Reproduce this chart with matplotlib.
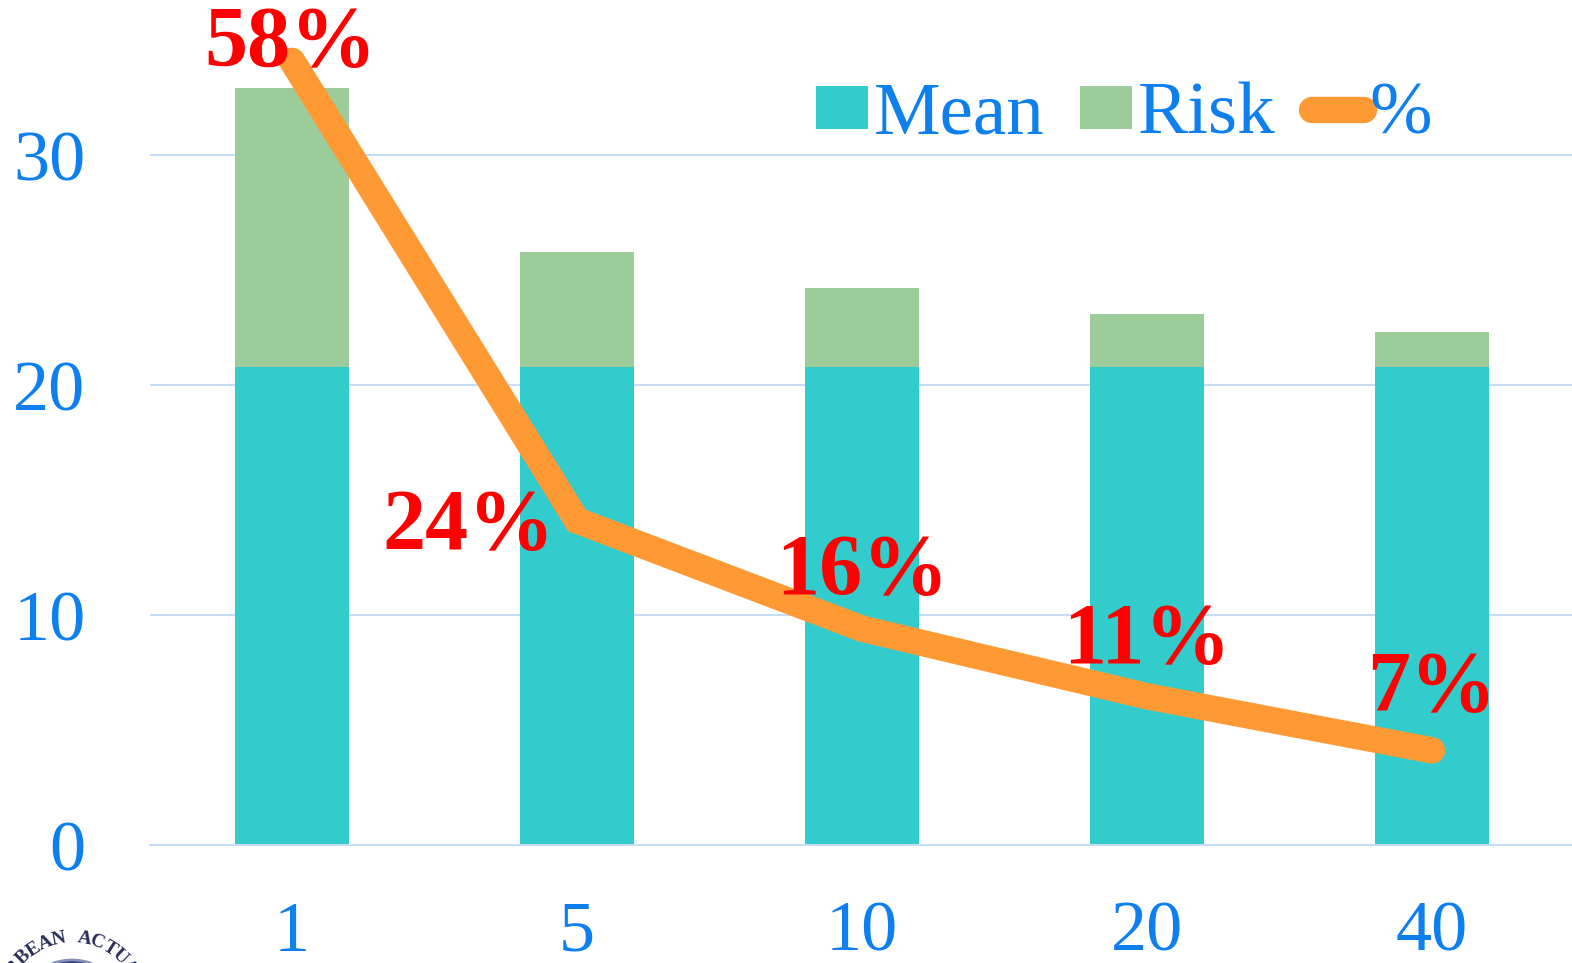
import numpy as np
import matplotlib.pyplot as plt
from matplotlib.patches import Circle

plt.rcParams['font.family'] = ['Liberation Serif', 'DejaVu Serif']

# horizons (years)
horizons = ['1', '5', '10', '20', '40']
mean_part = [20.8, 20.8, 20.8, 20.8, 20.8]
risk_part = [12.1, 5.0, 3.4, 2.3, 1.5]
pct = [58, 24, 16, 11, 7]
pct_labels = ['58%', '24%', '16%', '11%', '7%']

# label offsets in points (style only)
label_off = [(-1, 11), (-78, -6), (0, 40), (0, 39), (0, 43)]

BLUE = '#0D7FEE'
GRID = '#C6DDF7'
W, H = 1572, 963

fig = plt.figure(figsize=(W / 100, H / 100), dpi=100)
ax = fig.add_axes([149.5 / W, 118 / H, 1425 / W, 845 / H])

x = np.arange(len(horizons))
ax.bar(x, mean_part, width=0.4, color='#33CCCC', label='Mean', zorder=2)
ax.bar(x, risk_part, width=0.4, bottom=mean_part, color='#9CCC99',
       label='Risk', zorder=2)

ax.set_xlim(-0.5, 4.5)
ax.set_ylim(0, 36.74)
ax.set_yticks([0, 10, 20, 30])
ax.set_xticks(x)
ax.set_xticklabels(horizons)
ax.grid(axis='y', color=GRID, linewidth=1.5, zorder=0)
ax.tick_params(axis='both', length=0, labelsize=52, labelcolor=BLUE)
ax.tick_params(axis='y', pad=46)
ax.tick_params(axis='x', pad=40)
for s in ['top', 'right', 'left']:
    ax.spines[s].set_visible(False)
ax.spines['bottom'].set_color(GRID)
ax.spines['bottom'].set_linewidth(1.5)

# share line on its own scale
ax2 = ax.twinx()
ax2.set_ylim(0, 62.5)
ax2.axis('off')
line, = ax2.plot(x, pct, color='#FF9933', linewidth=19,
                 solid_capstyle='round', solid_joinstyle='miter', label='%')
for xi, p, t, off in zip(x, pct, pct_labels, label_off):
    ax2.annotate(t, (xi, p), xytext=off, textcoords='offset points',
                 ha='center', va='center', fontsize=62, fontweight='bold',
                 color='#FF0000', zorder=5)

handles = ax.get_legend_handles_labels()[0] + [line]
leg = fig.legend(handles, ['Mean', 'Risk', '%'], loc='center left',
                 bbox_to_anchor=(816 / W, 1 - 116 / H), ncol=3,
                 frameon=False, fontsize=54, handlelength=0.69,
                 handleheight=0.51, handletextpad=0.08, columnspacing=0.48,
                 borderaxespad=0, borderpad=0)
for t in leg.get_texts():
    t.set_color(BLUE)

# association badge in the corner
cx, cy = 72, H - 1008
fig.patches.append(Circle((cx, cy - 8), 56, transform=None,
                          facecolor='#2E3A80', edgecolor='#8A90B8',
                          linewidth=2, zorder=1))
badge = 'CARIBBEAN ACTUARIAL'
for i, ch in enumerate(badge):
    ang = np.deg2rad(134 - (i - 5) * 10.9)
    px = cx + 70 * np.cos(ang)
    py = cy + 70 * np.sin(ang)
    fig.text(px / W, py / H, ch, fontsize=14, color='#2A2F5A',
             ha='center', va='center', fontweight='bold',
             rotation=np.rad2deg(ang) - 90)

fig.savefig('out.png', dpi=100)
